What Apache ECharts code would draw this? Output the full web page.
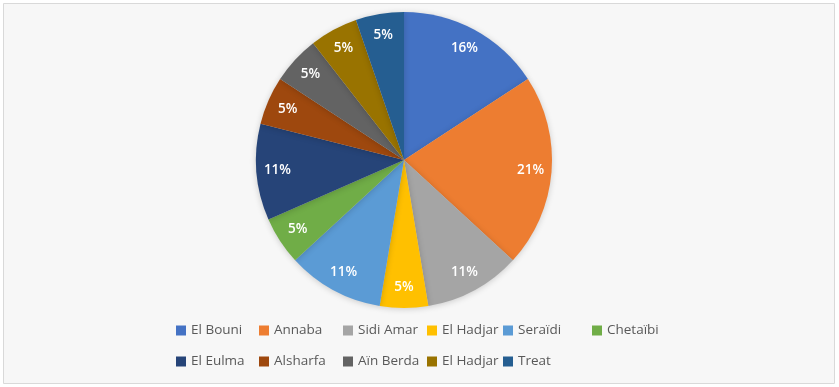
<!DOCTYPE html>
<html>
<head>
<meta charset="utf-8">
<script src="https://cdn.jsdelivr.net/npm/echarts@6/dist/echarts.min.js"></script>
<style>
  html, body { margin: 0; padding: 0; background: #ffffff; }
  #chart { width: 839px; height: 387px; }
</style>
</head>
<body>
<div id="chart"></div>
<script>
// communes (second "El Hadjar" has a trailing space so the two slices stay distinct)
const categories = ['El Bouni', 'Annaba', 'Sidi Amar', 'El Hadjar', 'Seraïdi', 'Chetaïbi',
  'El Eulma', 'Alsharfa', 'Aïn Berda', 'El Hadjar ', 'Treat'];
const counts = [3, 4, 2, 1, 2, 1, 2, 1, 1, 1, 1];
const colors = ['#4472C4', '#ED7D31', '#A5A5A5', '#FFC000', '#5B9BD5', '#70AD47',
  '#264478', '#9E480E', '#636363', '#997300', '#255E91'];

// legend columns, as laid out in the picture
const legendCols = [
  { left: 176, names: ['El Bouni', 'El Eulma'] },
  { left: 259, names: ['Annaba', 'Alsharfa'] },
  { left: 343, names: ['Sidi Amar', 'Aïn Berda'] },
  { left: 427, names: ['El Hadjar', 'El Hadjar '] },
  { left: 503, names: ['Seraïdi', 'Treat'] },
  { left: 592, names: ['Chetaïbi'] }
];

const pieData = categories.map((name, i) => ({ name: name, value: counts[i] }));

let myChart = echarts.init(document.getElementById('chart'));
let option = {
  color: colors,
  animation: false,
  graphic: [{
    type: 'rect',
    shape: { x: 3.5, y: 3.5, width: 831, height: 380 },
    style: { fill: '#f7f7f7', stroke: '#d9d9d9', lineWidth: 1 },
    silent: true,
    z: -10
  }],
  legend: legendCols.map(col => ({
    data: col.names,
    orient: 'vertical',
    left: col.left,
    top: 322,
    padding: 0,
    itemWidth: 10,
    itemHeight: 10,
    itemGap: 14,
    icon: 'rect',
    selectedMode: false,
    textStyle: { color: '#595959', fontSize: 13.5, fontFamily: 'Open Sans', lineHeight: 17 }
  })),
  series: [
    {
      name: 'share',
      type: 'pie',
      center: [404, 160],
      radius: [0, 148],
      startAngle: 90,
      clockwise: true,
      data: pieData,
      label: { show: false },
      labelLine: { show: false },
      itemStyle: { shadowBlur: 6, shadowColor: 'rgba(0,0,0,0.18)', shadowOffsetY: 1 },
      emphasis: { disabled: true }
    },
    {
      // transparent ring only used to place the percentage labels
      name: 'labels',
      type: 'pie',
      center: [404, 160],
      radius: [100, 148],
      startAngle: 90,
      clockwise: true,
      silent: true,
      data: pieData,
      itemStyle: { color: 'rgba(0,0,0,0)' },
      label: {
        show: true,
        position: 'inside',
        color: '#ffffff',
        fontSize: 13.5,
        fontWeight: 600,
        fontFamily: 'Open Sans',
        formatter: p => Math.round(p.percent) + '%'
      },
      labelLine: { show: false },
      emphasis: { disabled: true }
    }
  ]
};
myChart.setOption(option);
</script>
</body>
</html>
